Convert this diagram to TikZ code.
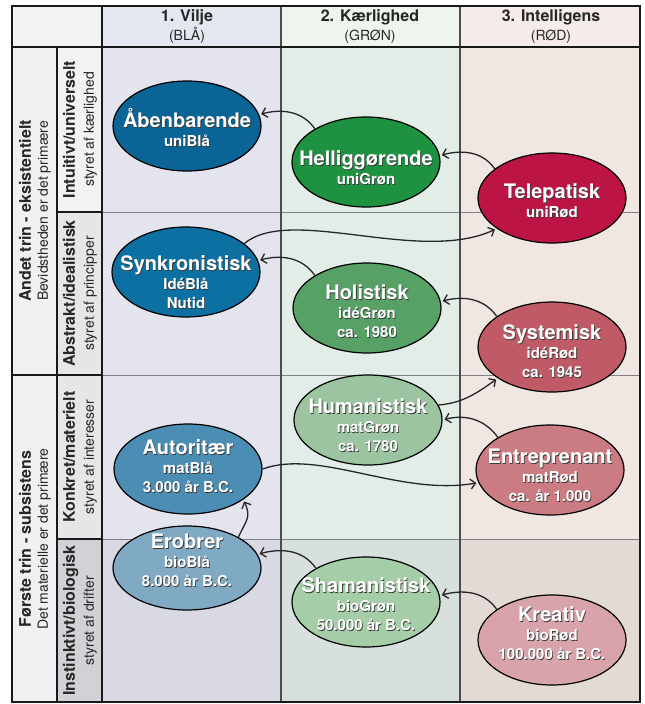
\documentclass[tikz,border=0pt]{standalone}
\usepackage{fontspec}
\setmainfont{TeX Gyre Heros}
\usepackage{xcolor}
\usetikzlibrary{shapes.geometric,arrows.meta}

\definecolor{uniBlaa}{HTML}{0A6496}
\definecolor{ideBlaa}{HTML}{0C70A2}
\definecolor{matBlaa}{HTML}{4B8DB3}
\definecolor{bioBlaa}{HTML}{80AAC4}
\definecolor{uniGron}{HTML}{1E9240}
\definecolor{ideGron}{HTML}{57A066}
\definecolor{matGron}{HTML}{9CC4A0}
\definecolor{bioGron}{HTML}{A5CDA7}
\definecolor{uniRod}{HTML}{BD1446}
\definecolor{ideRod}{HTML}{C05A66}
\definecolor{matRod}{HTML}{CB7C83}
\definecolor{bioRod}{HTML}{D8A3AA}
\definecolor{hdTL}{HTML}{F2F3F5}
\definecolor{hdBlaa}{HTML}{E4E7F0}
\definecolor{hdGron}{HTML}{EDF5EC}
\definecolor{hdRod}{HTML}{F5ECEA}
\definecolor{bgBlaa}{HTML}{E4E4EE}
\definecolor{bgBlaaD}{HTML}{D9D9E3}
\definecolor{bgGron}{HTML}{E3EDE8}
\definecolor{bgGronD}{HTML}{D8E0DD}
\definecolor{bgRod}{HTML}{F0E6E2}
\definecolor{bgRodD}{HTML}{E3DAD5}
\definecolor{lblBg}{HTML}{F0F0F2}
\definecolor{lblA}{HTML}{F2F2F4}
\definecolor{lblB}{HTML}{E6E6E9}
\definecolor{lblD}{HTML}{D2D2D6}
\definecolor{shadowc}{HTML}{3A3A3A}

% white text with a small dark shadow
\newcommand\shd[1]{\leavevmode\rlap{\kern.8pt\raisebox{-.8pt}{\textcolor{shadowc}{#1}}}#1}
\newcommand\ttl[1]{{\fontsize{20}{19}\selectfont\shd{#1}}}

\begin{document}
\begin{tikzpicture}[x=1pt, y=1pt, >={Straight Barb[length=5pt,width=10pt]},
    elp/.style={ellipse, draw=black, line width=1.2pt, fill=#1,
        minimum width=148pt, minimum height=90pt, inner sep=0pt},
    etxt/.style={text=white, align=center, inner sep=0pt,
        font=\fontsize{15}{19}\selectfont\bfseries},
    flow/.style={->, line width=1.3pt, draw=black!85, shorten >=2pt},
    hdr/.style={align=center, text=black!85, font=\fontsize{16}{19}\selectfont\bfseries},
    rowbig/.style={rotate=90, align=center, text=black!85, font=\fontsize{16}{17}\selectfont\bfseries},
    rowsub/.style={rotate=90, align=center, text=black!85, font=\fontsize{16}{19}\selectfont\bfseries},
    frameline/.style={line width=1.2pt, draw=black!90},
    colline/.style={line width=1.1pt, draw=black!70},
    gridline/.style={line width=0.9pt, draw=black!50}]
    \useasboundingbox (0,0) rectangle (645,-704);

    % cells
    \fill[hdTL] (12,-6) rectangle (102,-47);
    \fill[hdBlaa] (102,-6) rectangle (281,-47);
    \fill[hdGron] (281,-6) rectangle (460,-47);
    \fill[hdRod] (460,-6) rectangle (640,-47);
    \fill[bgBlaa] (102,-47) rectangle (281,-539);
    \fill[bgBlaaD] (102,-539) rectangle (281,-702);
    \fill[bgGron] (281,-47) rectangle (460,-539);
    \fill[bgGronD] (281,-539) rectangle (460,-702);
    \fill[bgRod] (460,-47) rectangle (640,-539);
    \fill[bgRodD] (460,-539) rectangle (640,-702);
    \fill[lblBg] (12,-47) rectangle (57,-702);
    \fill[lblA] (57,-47) rectangle (102,-212);
    \fill[lblB] (57,-212) rectangle (102,-539);
    \fill[lblD] (57,-539) rectangle (102,-702);

    % grid
    \foreach \y in {212,375,539}
        \draw[gridline] (102,-\y) -- (640,-\y);
    \foreach \y in {212,539}
        \draw[frameline] (57,-\y) -- (102,-\y);
    \draw[frameline] (12,-375) -- (102,-375);
    \foreach \x in {281,460}
        \draw[colline] (\x,-6) -- (\x,-702);
    \draw[frameline] (57,-47) -- (57,-702);
    \draw[frameline] (102,-6) -- (102,-702);
    \draw[frameline] (12,-47) -- (640,-47);
    \draw[frameline] (12,-6) rectangle (640,-702);

    % headers
    \node[hdr] (hVilje) at (187,-27) {1. Vilje\\{\fontsize{14}{19}\selectfont\mdseries (BLÅ)}};
    \node[hdr] (hKaer) at (370,-27) {2. Kærlighed\\{\fontsize{14}{19}\selectfont\mdseries (GRØN)}};
    \node[hdr] (hIntel) at (551,-27) {3. Intelligens\\{\fontsize{14}{19}\selectfont\mdseries (RØD)}};

    % row labels
    \node[rowbig] (andet) at (35,-211) {Andet trin - eksistentielt\\{\fontsize{14}{17}\selectfont\mdseries Bevidstheden er det primære}};
    \node[rowbig] (forste) at (35,-539) {Første trin - subsistens\\{\fontsize{14}{17}\selectfont\mdseries Det materielle er det primære}};
    \node[rowsub] (intu) at (80,-129.5) {Intuitivt/universelt\\{\fontsize{14}{19}\selectfont\mdseries styret af kærlighed}};
    \node[rowsub] (abst) at (80,-293.5) {Abstrakt/idealistisk\\{\fontsize{14}{19}\selectfont\mdseries styret af principper}};
    \node[rowsub] (konk) at (80,-457) {Konkret/materielt\\{\fontsize{14}{19}\selectfont\mdseries styret af interesser}};
    \node[rowsub] (inst) at (80,-620.5) {Instinktivt/biologisk\\{\fontsize{14}{19}\selectfont\mdseries styret af drifter}};

    % ellipses
    \node[elp=uniBlaa] (aaben) at (187,-126) {};
    \node[elp=uniGron] (hellig) at (366,-162) {};
    \node[elp=uniRod] (tele) at (552,-198) {};
    \node[elp=ideBlaa] (synk) at (186,-272) {};
    \node[elp=ideGron] (holi) at (367,-308) {};
    \node[elp=ideRod] (syst) at (552,-347) {};
    \node[elp=matGron] (huma) at (368,-420) {};
    \node[elp=matBlaa] (auto) at (188,-469) {};
    \node[elp=matRod] (entre) at (550,-470) {};
    \node[elp=bioBlaa, minimum height=84pt] (erob) at (187,-568) {};
    \node[elp=bioGron] (shama) at (366,-602) {};
    \node[elp=bioRod] (krea) at (552,-640) {};

    \node[etxt] (aabenT) at ([yshift=-2pt]aaben) {\ttl{Åbenbarende}\\\shd{uniBlå}};
    \node[etxt] (helligT) at ([yshift=-6pt]hellig) {\ttl{Helliggørende}\\\shd{uniGrøn}};
    \node[etxt] (teleT) at ([yshift=-3pt]tele) {\ttl{Telepatisk}\\\shd{uniRød}};
    \node[etxt] (synkT) at ([yshift=-11pt]synk) {\ttl{Synkronistisk}\\\shd{IdéBlå}\\\shd{Nutid}};
    \node[etxt] (holiT) at ([yshift=-4pt]holi) {\ttl{Holistisk}\\\shd{idéGrøn}\\\shd{ca. 1980}};
    \node[etxt] (systT) at ([yshift=-5pt]syst) {\ttl{Systemisk}\\\shd{idéRød}\\\shd{ca. 1945}};
    \node[etxt] (humaT) at ([yshift=-6pt]huma) {\ttl{Humanistisk}\\\shd{matGrøn}\\\shd{ca. 1780}};
    \node[etxt] (autoT) at ([yshift=2pt]auto) {\ttl{Autoritær}\\\shd{matBlå}\\\shd{3.000 år B.C.}};
    \node[etxt] (entreT) at ([yshift=-6pt]entre) {\ttl{Entreprenant}\\\shd{matRød}\\\shd{ca. år 1.000}};
    \node[etxt] (erobT) at ([yshift=7pt]erob) {\ttl{Erobrer}\\\shd{bioBlå}\\\shd{8.000 år B.C.}};
    \node[etxt] (shamaT) at ([yshift=-3pt]shama) {\ttl{Shamanistisk}\\\shd{bioGrøn}\\\shd{50.000 år B.C.}};
    \node[etxt] (kreaT) at ([yshift=6pt]krea) {\ttl{Kreativ}\\\shd{bioRød}\\\shd{100.000 år B.C.}};

    % development arrows
    \draw[flow] (hellig.147) to[out=125,in=15] (aaben.9);
    \draw[flow] (tele.153) to[out=125,in=15] (hellig.5);
    \draw[flow] (holi.148) to[out=125,in=15] (synk.9);
    \draw[flow] (syst.151) to[out=125,in=15] (holi.5);
    \draw[flow] (entre.148) to[out=125,in=15] (huma.0);
    \draw[flow] (shama.146) to[out=125,in=15] (erob.11);
    \draw[flow] (krea.151) to[out=125,in=15] (shama.5);
    \draw[flow] (huma.12) to[out=5,in=215] (syst.210);
    \draw[flow] (erob.31) to[out=65,in=-65,looseness=1.3] (auto.-29);
    \draw[flow] (synk.26) .. controls +(40:60) and +(205:85) .. (tele.209);
    \draw[flow] (auto.0) .. controls +(20:60) and +(190:80) .. (entre.190);
\end{tikzpicture}
\end{document}
